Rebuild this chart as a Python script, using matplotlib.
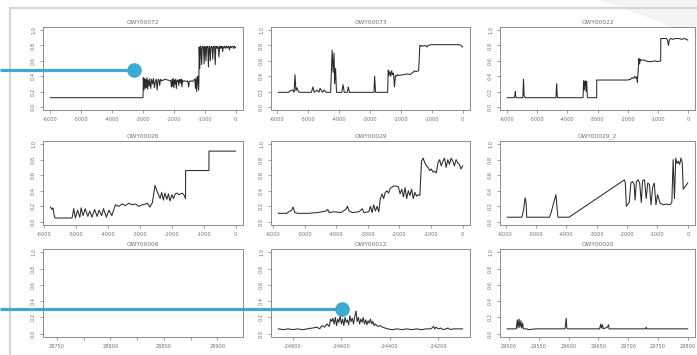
import matplotlib
matplotlib.use("Agg")
import matplotlib.pyplot as plt
from matplotlib.lines import Line2D
from matplotlib.patches import Polygon

W, H = 697, 355

# ---------------- data ----------------
titles = ["OWY00072", "OWY00073", "OWY00022",
          "OWY00026", "OWY00029", "OWY00029_2",
          "OWY00006", "OWY00012", "OWY00020"]

y_ticks = [0.0, 0.2, 0.4, 0.6, 0.8, 1.0]
y_labels = ["0.0", "0.2", "0.4", "0.6", "0.8", "1.0"]

ticks_a = [-6000, -5000, -4000, -3000, -2000, -1000, 0]
labels_a = ["-6000", "-5000", "-4000", "-3000", "-2000", "-1000", "0"]

ticks_g = [28750, 28775, 28800, 28825, 28850, 28875, 28900]
labels_g = ["28750", "", "28800", "", "28850", "", "28900"]

ticks_h = [-24800, -24600, -24400, -24200]
labels_h = ["-24800", "-24600", "-24400", "-24200"]

ticks_i = [29500, 29550, 29600, 29650, 29700, 29750, 29800]
labels_i = ["29500", "29550", "29600", "29650", "29700", "29750", "29800"]

p1_x = [-6000, -3000, -2990, -2970, -2950, -2930, -2910, -2890, -2870, -2850, -2830,
        -2800, -2780, -2750, -2720, -2690, -2660, -2630, -2600, -2570, -2540, -2510,
        -2480, -2460, -2430, -2400, -2330, -2300, -2200, -2100, -2080, -2060, -2040,
        -2020, -2000, -1980, -1960, -1940, -1920, -1900, -1880, -1860, -1840, -1820,
        -1800, -1780, -1760, -1740, -1720, -1700, -1650, -1600, -1550, -1520, -1500,
        -1450, -1400, -1350, -1320, -1300, -1280, -1260, -1240, -1220, -1200, -1190,
        -1180, -1160, -1140, -1120, -1100, -1080, -1060, -1040, -1020, -1000, -980,
        -960, -940, -920, -900, -880, -860, -840, -820, -800, -780, -760, -740, -720,
        -700, -680, -660, -640, -620, -600, -580, -560, -540, -520, -500, -480, -460,
        -440, -420, -400, -380, -360, -340, -320, -300, -280, -260, -240, -220, -200,
        -180, -160, -140, -120, -100, -80, -60, -40, -20, 0]
p1_y = [0.12, 0.12, 0.38, 0.22, 0.37, 0.24, 0.36, 0.25, 0.38, 0.23, 0.35,
        0.27, 0.37, 0.24, 0.36, 0.30, 0.37, 0.25, 0.33, 0.36, 0.22, 0.36,
        0.35, 0.28, 0.36, 0.34, 0.35, 0.36, 0.35, 0.34, 0.26, 0.36, 0.27,
        0.37, 0.25, 0.35, 0.30, 0.36, 0.24, 0.34, 0.33, 0.35, 0.28, 0.36,
        0.35, 0.31, 0.36, 0.26, 0.35, 0.33, 0.34, 0.33, 0.34, 0.26, 0.33,
        0.34, 0.33, 0.35, 0.36, 0.24, 0.38, 0.20, 0.36, 0.40, 0.22, 0.30,
        0.78, 0.50, 0.79, 0.76, 0.55, 0.79, 0.77, 0.78, 0.56, 0.79, 0.77,
        0.60, 0.78, 0.79, 0.76, 0.52, 0.79, 0.78, 0.60, 0.77, 0.79, 0.78,
        0.62, 0.78, 0.79, 0.77, 0.55, 0.79, 0.78, 0.76, 0.79, 0.77, 0.65,
        0.78, 0.79, 0.76, 0.78, 0.79, 0.72, 0.78, 0.77, 0.79, 0.78, 0.76,
        0.79, 0.78, 0.77, 0.79, 0.78, 0.74, 0.78, 0.79, 0.77, 0.78, 0.79,
        0.78, 0.76, 0.79, 0.78, 0.77]

p2_x = [-5946, -5620, -5560, -5480, -5440, -5410, -5380, -5350, -5300, -5250, -5200,
        -5000, -4880, -4830, -4790, -4700, -4640, -4600, -4520, -4470, -4400, -4260,
        -4210, -4180, -4150, -4130, -4100, -4070, -3900, -3860, -3820, -3720, -3690,
        -3650, -3400, -3000, -2860, -2840, -2810, -2600, -2420, -2400, -2380, -2350,
        -2320, -2290, -2260, -2230, -2200, -2170, -2150, -2130, -2100, -2060, -1900,
        -1800, -1700, -1600, -1560, -1500, -1420, -1380, -1350, -1330, -1300, -1200,
        -1150, -1120, -1000, -800, -600, -400, -200, -100, -50, 0]
p2_y = [0.19, 0.19, 0.21, 0.22, 0.19, 0.42, 0.21, 0.25, 0.20, 0.19, 0.19,
        0.19, 0.19, 0.26, 0.19, 0.22, 0.19, 0.24, 0.19, 0.22, 0.19, 0.19,
        0.74, 0.45, 0.70, 0.30, 0.50, 0.19, 0.19, 0.29, 0.19, 0.19, 0.26,
        0.19, 0.19, 0.19, 0.19, 0.40, 0.19, 0.19, 0.19, 0.48, 0.41, 0.46,
        0.40, 0.47, 0.42, 0.44, 0.26, 0.40, 0.41, 0.40, 0.42, 0.41, 0.42,
        0.43, 0.42, 0.45, 0.47, 0.46, 0.47, 0.80, 0.79, 0.80, 0.79, 0.80,
        0.78, 0.80, 0.81, 0.81, 0.81, 0.81, 0.81, 0.81, 0.80, 0.78]

p3_x = [-6000, -5760, -5740, -5730, -5720, -5700, -5480, -5470, -5460, -5450,
        -5440, -5400, -4380, -4370, -4357, -4345, -4330, -3480, -3470, -3460, -3450,
        -3430, -3410, -3400, -3380, -3360, -3350, -3340, -3330, -3027, -3026, -2000,
        -1900, -1850, -1800, -1760, -1720, -1690, -1676, -1622, -1600, -1580, -1560,
        -1460, -1400, -1300, -1200, -1100, -1000, -900, -897, -850, -700, -660, -640,
        -620, -600, -560, -500, -400, -300, -200, -100, -50, 0]
p3_y = [0.12, 0.12, 0.17, 0.20, 0.14, 0.12, 0.12, 0.25, 0.36, 0.28, 0.15, 0.12,
        0.12, 0.22, 0.30, 0.20, 0.12, 0.12, 0.25, 0.34, 0.22, 0.33, 0.28, 0.34,
        0.20, 0.33, 0.24, 0.15, 0.12, 0.12, 0.35, 0.35, 0.36, 0.38, 0.37, 0.40,
        0.37, 0.39, 0.32, 0.63, 0.56, 0.62, 0.61, 0.61, 0.60, 0.59, 0.59, 0.60,
        0.59, 0.60, 0.89, 0.89, 0.89, 0.85, 0.80, 0.86, 0.88, 0.89, 0.88, 0.89,
        0.89, 0.88, 0.89, 0.88, 0.87]

p4_x = [-5790, -5740, -5710, -5670, -5640, -5113, -5060, -5010, -4940, -4870, -4830,
        -4770, -4700, -4620, -4560, -4490, -4410, -4330, -4270, -4190, -4130, -4040,
        -3960, -3870, -3756, -3650, -3550, -3440, -3340, -3230, -3130, -3020, -2920,
        -2810, -2760, -2680, -2600, -2520, -2470, -2420, -2360, -2310, -2260, -2210,
        -2150, -2100, -2050, -1990, -1940, -1890, -1830, -1780, -1720, -1670, -1620,
        -1564, -1563, -833, -832, 0]
p4_y = [0.19, 0.16, 0.18, 0.08, 0.05, 0.05, 0.17, 0.05, 0.15, 0.06, 0.18,
        0.08, 0.17, 0.07, 0.14, 0.06, 0.16, 0.07, 0.15, 0.08, 0.17, 0.06,
        0.15, 0.08, 0.22, 0.20, 0.23, 0.21, 0.24, 0.22, 0.23, 0.20, 0.22,
        0.23, 0.24, 0.19, 0.25, 0.47, 0.41, 0.36, 0.30, 0.38, 0.28, 0.37,
        0.29, 0.36, 0.27, 0.35, 0.30, 0.36, 0.37, 0.35, 0.36, 0.37, 0.35,
        0.30, 0.66, 0.66, 0.91, 0.91]

p5_x = [-5833, -5573, -5417, -5365, -5313, -5208, -4896, -4583, -4323, -4271, -4219,
        -4063, -3854, -3698, -3646, -3594, -3490, -3281, -3177, -3125, -2969, -2917,
        -2865, -2813, -2760, -2708, -2656, -2604, -2552, -2500, -2448, -2396, -2344,
        -2292, -2188, -2135, -2083, -2031, -1979, -1927, -1875, -1823, -1771, -1719,
        -1667, -1615, -1563, -1510, -1458, -1406, -1354, -1302, -1250, -1198, -1146,
        -1094, -1042, -990, -938, -885, -833, -781, -729, -677, -625, -573, -521,
        -469, -417, -365, -313, -260, -208, -156, -104, -52, 0]
p5_y = [0.11, 0.11, 0.15, 0.19, 0.12, 0.11, 0.11, 0.12, 0.14, 0.16, 0.12,
        0.13, 0.12, 0.16, 0.20, 0.14, 0.12, 0.13, 0.17, 0.12, 0.13, 0.20,
        0.12, 0.22, 0.14, 0.20, 0.13, 0.30, 0.36, 0.30, 0.38, 0.40, 0.37,
        0.43, 0.46, 0.46, 0.46, 0.45, 0.36, 0.42, 0.32, 0.44, 0.30, 0.40,
        0.34, 0.42, 0.30, 0.38, 0.33, 0.35, 0.34, 0.78, 0.82, 0.76, 0.72,
        0.70, 0.66, 0.68, 0.64, 0.65, 0.63, 0.76, 0.80, 0.72, 0.78, 0.82,
        0.70, 0.80, 0.74, 0.82, 0.78, 0.72, 0.80, 0.76, 0.74, 0.68, 0.72]

p6_x = [-5946, -5464, -5410, -5357, -5325, -5303, -4553, -4500, -4446, -4392, -4339,
        -4307, -4275, -3910, -2088, -2056, -2024, -1981, -1928, -1874, -1820, -1767,
        -1735, -1692, -1638, -1585, -1531, -1488, -1424, -1370, -1317, -1263, -1210,
        -1156, -1103, -1049, -996, -910, -803, -696, -610, -568, -525, -482, -439,
        -396, -354, -311, -268, -225, -182, -150, 0]
p6_y = [0.06, 0.06, 0.15, 0.31, 0.25, 0.06, 0.06, 0.12, 0.20, 0.28, 0.35,
        0.18, 0.06, 0.06, 0.54, 0.50, 0.20, 0.22, 0.25, 0.50, 0.52, 0.48,
        0.28, 0.52, 0.54, 0.50, 0.25, 0.53, 0.54, 0.30, 0.50, 0.48, 0.22,
        0.45, 0.50, 0.22, 0.35, 0.24, 0.22, 0.23, 0.22, 0.23, 0.25, 0.80,
        0.30, 0.82, 0.75, 0.78, 0.74, 0.82, 0.76, 0.42, 0.50]

p8_x = [-24860, -24840, -24820, -24800, -24780, -24760, -24740, -24720, -24700,
        -24690, -24680, -24670, -24660, -24650, -24645, -24640, -24635, -24630,
        -24625, -24620, -24615, -24610, -24605, -24600, -24595, -24590, -24585,
        -24580, -24575, -24570, -24565, -24560, -24555, -24550, -24545, -24540,
        -24535, -24530, -24525, -24520, -24515, -24510, -24505, -24500, -24495,
        -24490, -24485, -24480, -24475, -24470, -24465, -24460, -24450, -24440,
        -24430, -24420, -24410, -24390, -24370, -24350, -24330, -24310, -24290,
        -24270, -24250, -24230, -24220, -24215, -24210, -24200, -24190, -24180,
        -24170, -24160, -24150, -24140, -24120, -24100]
p8_y = [0.06, 0.05, 0.06, 0.05, 0.06, 0.05, 0.06, 0.07, 0.08,
        0.06, 0.10, 0.08, 0.12, 0.09, 0.18, 0.15, 0.19, 0.12,
        0.20, 0.10, 0.18, 0.14, 0.22, 0.12, 0.18, 0.10, 0.20,
        0.14, 0.17, 0.11, 0.22, 0.15, 0.19, 0.12, 0.21, 0.28,
        0.15, 0.20, 0.12, 0.18, 0.14, 0.20, 0.12, 0.17, 0.11,
        0.16, 0.13, 0.18, 0.12, 0.15, 0.10, 0.12, 0.09, 0.10,
        0.08, 0.07, 0.06, 0.05, 0.06, 0.05, 0.06, 0.05, 0.06,
        0.05, 0.06, 0.06, 0.09, 0.06, 0.08, 0.06, 0.07, 0.05,
        0.06, 0.07, 0.05, 0.06, 0.06, 0.06]

p9_x = [29497, 29512, 29514, 29515, 29517, 29518, 29520, 29521, 29523, 29524,
        29530, 29532, 29545, 29594, 29596, 29597, 29599, 29652, 29654, 29655,
        29657, 29658, 29665, 29667, 29668, 29729, 29730, 29731, 29800]
p9_y = [0.06, 0.06, 0.17, 0.07, 0.18, 0.08, 0.16, 0.07, 0.13, 0.06,
        0.06, 0.05, 0.06, 0.06, 0.19, 0.07, 0.06, 0.06, 0.12, 0.07,
        0.11, 0.06, 0.08, 0.11, 0.06, 0.06, 0.08, 0.06, 0.06]

series = [(p1_x, p1_y), (p2_x, p2_y), (p3_x, p3_y),
          (p4_x, p4_y), (p5_x, p5_y), (p6_x, p6_y),
          (None, None), (p8_x, p8_y), (p9_x, p9_y)]
xticks = [(ticks_a, labels_a)] * 6 + [(ticks_g, labels_g), (ticks_h, labels_h), (ticks_i, labels_i)]
fixed_xlim = {6: (28737, 28924)}

# ---------------- layout ----------------
cols = [(43, 243), (271, 470), (500, 695)]
rows = [(27, 110), (141, 225), (249, 337)]

fig = plt.figure(figsize=(W / 100, H / 100), dpi=100)
fig.patch.set_facecolor("white")

def frac_rect(l, t, r, b):
    return [l / W, 1 - b / H, (r - l) / W, (b - t) / H]

# decorative background frame
bg = fig.add_axes([0, 0, 1, 1])
bg.set_xlim(0, W)
bg.set_ylim(H, 0)
bg.axis("off")
bg.add_patch(Polygon([[600, 0], [697, 0], [697, 40], [660, 22]], closed=True,
                     facecolor="#f3f3f3", edgecolor="none"))
bg.add_line(Line2D([10, 697], [8, 8], color="#d4d4d4", lw=1.5))
bg.add_line(Line2D([10, 10], [8, 355], color="#d4d4d4", lw=1.5))

axis_col = "#8c8c8c"
text_col = "#707070"
for i in range(9):
    r, c = divmod(i, 3)
    l, rr = cols[c]
    t, b = rows[r]
    ax = fig.add_axes(frac_rect(l, t, rr, b))
    xs, ys = series[i]
    if xs is not None:
        ax.plot(xs, ys, color="#2a2a2a", lw=0.75)
        span = max(xs) - min(xs)
        ax.set_xlim(min(xs) - 0.04 * span, max(xs) + 0.04 * span)
    else:
        ax.set_xlim(*fixed_xlim[i])
    ax.set_ylim(-0.04, 1.04)
    tk, lb = xticks[i]
    ax.set_xticks(tk)
    ax.set_xticklabels(lb)
    ax.set_yticks(y_ticks)
    ax.set_yticklabels(y_labels, rotation=90, va="center")
    ax.tick_params(axis="both", length=2.5, width=0.6, colors=axis_col,
                   labelcolor=text_col, labelsize=3.6, pad=2.5)
    for s in ax.spines.values():
        s.set_color(axis_col)
        s.set_linewidth(0.7)
    ax.set_title(titles[i], fontsize=4.2, color=text_col, pad=2.5)

# annotation callouts
blue = "#40a9d0"
bg2 = fig.add_axes([0, 0, 1, 1])
bg2.set_xlim(0, W)
bg2.set_ylim(H, 0)
bg2.axis("off")
bg2.patch.set_alpha(0)
bg2.add_line(Line2D([0, 134], [70, 70], color=blue, lw=2.3, solid_capstyle="butt"))
bg2.plot([134], [70], "o", color=blue, markersize=10.5, markeredgewidth=0)
bg2.add_line(Line2D([0, 342], [309, 309], color=blue, lw=2.3, solid_capstyle="butt"))
bg2.plot([342], [309], "o", color=blue, markersize=10.5, markeredgewidth=0)

fig.savefig("out.png", dpi=100, facecolor="white")
